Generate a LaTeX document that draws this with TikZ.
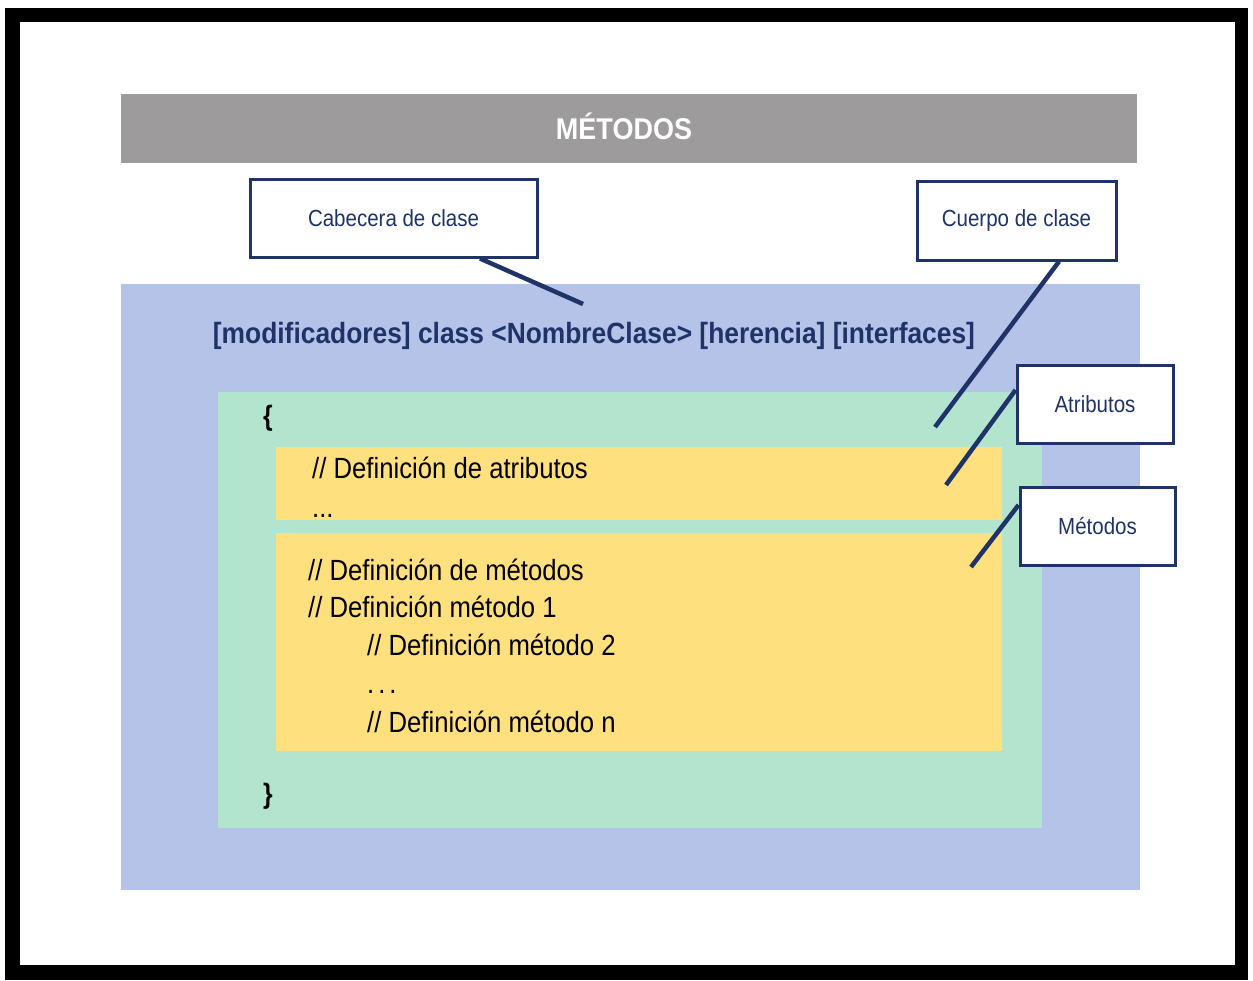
\documentclass[tikz,border=0pt]{standalone}
\usepackage{fontspec}
\setmainfont[FakeStretch=0.88]{Liberation Sans}
\newfontfamily\hdfont[FakeStretch=0.90]{Liberation Sans}
\definecolor{hdgray}{HTML}{9D9B9B}
\definecolor{outerblue}{HTML}{B4C3E7}
\definecolor{bodygreen}{HTML}{B3E5CE}
\definecolor{codeyellow}{HTML}{FFE07E}
\definecolor{navy}{HTML}{1F3369}
\tikzset{
  labelbox/.style={draw=navy, line width=3pt, fill=white, text=navy, inner sep=0pt,
    font=\fontsize{23.3}{28}\selectfont},
  callout/.style={draw=navy, line width=4.5pt},
  codetext/.style={anchor=base west, inner sep=0pt, text=black, font=\fontsize{29.2}{34}\selectfont},
  brace/.style={anchor=base west, inner sep=0pt, text=black, font=\bfseries\fontsize{28}{34}\selectfont}
}
\begin{document}
\begin{tikzpicture}[x=1pt,y=-1pt]
\useasboundingbox (0,0) rectangle (1253,980);
% frame
\fill[black] (5,8) rectangle (1248,980);
\fill[white] (20,22) rectangle (1235,965);
% title bar
\fill[hdgray] (121,94) rectangle (1137,163);
\node[anchor=base, inner sep=0pt, text=white, font=\hdfont\bfseries\fontsize{30}{34}\selectfont] (title) at (624,139) {MÉTODOS};
% regions
\fill[outerblue] (121,284) rectangle (1140,890);
\fill[bodygreen] (218,392) rectangle (1042,828);
\fill[codeyellow] (276,447) rectangle (1002,520);
\fill[codeyellow] (276,533) rectangle (1002,751);
% header line
\node[anchor=base, inner sep=0pt, text=navy, font=\hdfont\bfseries\fontsize{29.3}{34}\selectfont] (hdr) at (594,343)
  {[modificadores] class <NombreClase> [herencia] [interfaces]};
% code
\node[brace] (ob) at (263,425) {\{};
\node[codetext] (t1) at (312,478) {// Definición de atributos};
\node[codetext] (t2) at (312,517) {...};
\node[codetext] (t3) at (308,580) {// Definición de métodos};
\node[codetext] (t4) at (308,617) {// Definición método 1};
\node[codetext] (t5) at (367,655) {// Definición método 2};
\node[codetext] (t6) at (367,693) {.\hspace{4pt}.\hspace{4pt}.};
\node[codetext] (t7) at (367,732) {// Definición método n};
\node[brace] (cb) at (263,803) {\}};
% label boxes
\node[labelbox, minimum width=287pt, minimum height=78pt] (cab) at (393.5,218) {Cabecera de clase};
\node[labelbox, minimum width=199pt, minimum height=79pt] (cue) at (1016.5,220.5) {Cuerpo de clase};
\node[labelbox, minimum width=156pt, minimum height=78pt] (atr) at (1095,404) {Atributos};
\node[labelbox, minimum width=155pt, minimum height=78pt] (met) at (1097.5,526) {Métodos};
% callout end points
\coordinate (cabE) at (583,304);
\coordinate (cueE) at (935,427);
\coordinate (atrE) at (946,485);
\coordinate (metE) at (971,567);
\draw[callout] ([xshift=86.5pt]cab.south) -- (cabE);
\draw[callout] ([xshift=42.5pt]cue.south) -- (cueE);
\draw[callout] ([yshift=14pt]atr.west) -- (atrE);
\draw[callout] ([yshift=21pt]met.west) -- (metE);
\end{tikzpicture}
\end{document}
